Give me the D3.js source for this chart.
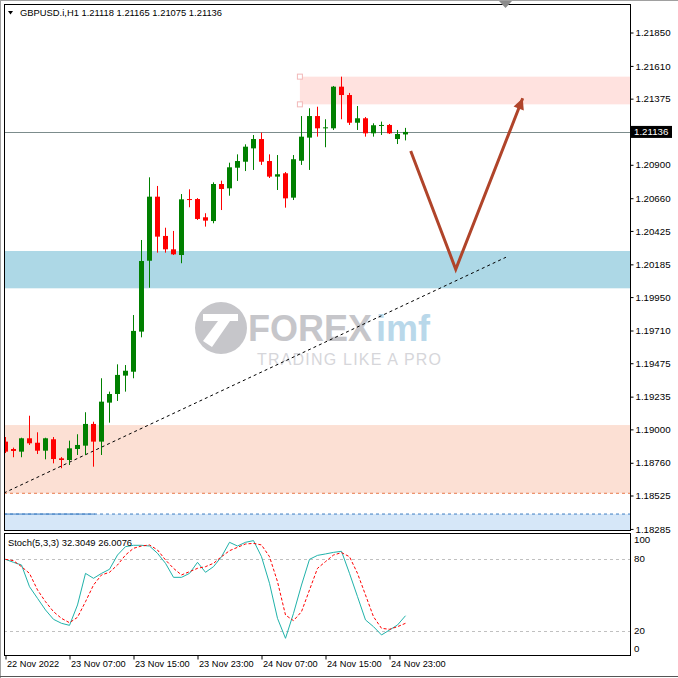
<!DOCTYPE html>
<html><head><meta charset="utf-8">
<script src="https://cdn.jsdelivr.net/npm/d3@7"></script>
<style>body{margin:0;background:#fff}svg{display:block}text{font-family:"Liberation Sans",Arial,sans-serif}</style>
</head><body><svg id="c" width="678" height="678"></svg>
<script>
// ---------- data ----------
const symbolLabel = "GBPUSD.i,H1";
const lastOHLC = [1.21118, 1.21165, 1.21075, 1.21136];
const open  = [1.18912,1.18859,1.18840,1.18936,1.18904,1.18847,1.18929,1.18792,1.18780,1.18859,1.18883,1.19039,1.18912,1.19192,1.19254,1.19386,1.19414,1.19702,1.20211,1.20671,1.20389,1.20293,1.20252,1.20654,1.20654,1.20523,1.20496,1.20762,1.20731,1.20879,1.20922,1.21018,1.21085,1.20927,1.20815,1.20839,1.20664,1.20929,1.21095,1.21250,1.21162,1.21162,1.21461,1.21401,1.21202,1.21234,1.21126,1.21179,1.21186,1.21085,1.21118];
const high  = [1.18945,1.18869,1.18940,1.19098,1.18979,1.18940,1.18945,1.18801,1.18919,1.18965,1.19123,1.19055,1.19367,1.19271,1.19467,1.19462,1.19821,1.20360,1.20810,1.20748,1.20448,1.20425,1.20690,1.20724,1.20661,1.20552,1.20774,1.20786,1.20915,1.20975,1.21047,1.21114,1.21131,1.20975,1.20970,1.20848,1.20970,1.21250,1.21306,1.21317,1.21227,1.21466,1.21533,1.21416,1.21322,1.21243,1.21198,1.21210,1.21193,1.21150,1.21165];
const low   = [1.18830,1.18800,1.18800,1.18888,1.18823,1.18785,1.18756,1.18721,1.18744,1.18816,1.18816,1.18732,1.18816,1.19048,1.19204,1.19271,1.19367,1.19661,1.20017,1.20269,1.20269,1.20252,1.20193,1.20595,1.20504,1.20456,1.20480,1.20575,1.20678,1.20784,1.20855,1.20863,1.20899,1.20805,1.20719,1.20592,1.20647,1.20899,1.20863,1.21102,1.21026,1.21150,1.21227,1.21186,1.21150,1.21102,1.21102,1.21114,1.21121,1.21049,1.21075];
const close = [1.18840,1.18845,1.18936,1.18900,1.18847,1.18936,1.18787,1.18780,1.18864,1.18888,1.19039,1.18912,1.19199,1.19254,1.19391,1.19421,1.19707,1.20209,1.20671,1.20384,1.20293,1.20257,1.20652,1.20647,1.20511,1.20499,1.20762,1.20726,1.20882,1.20927,1.21030,1.21085,1.20922,1.20815,1.20832,1.20659,1.20940,1.21102,1.21250,1.21162,1.21169,1.21461,1.21401,1.21202,1.21234,1.21126,1.21184,1.21186,1.21126,1.21121,1.21136];
const stochK = [79.3,76.8,74.6,56.5,46.8,37.1,29.3,26.0,24.3,41.3,67.6,63.5,67.6,71.0,82.9,89.9,91.0,91.0,90.4,84.3,76.0,64.3,64.3,67.6,76.8,68.5,73.2,81.5,93.5,90.4,93.5,94.9,81.5,59.3,30.1,13.5,34.3,57.9,79.3,82.6,83.8,85.1,86.0,67.6,48.2,28.8,23.2,16.3,20.4,24.6,32.3];
const stochD = [79.3,78.2,73.2,67.6,53.8,44.0,35.7,30.1,26.5,31.0,44.0,57.9,66.3,68.5,74.6,82.9,88.5,90.4,91.3,87.1,78.8,71.8,66.3,69.0,71.8,73.2,76.0,81.5,86.5,89.3,92.1,92.6,91.3,81.5,60.7,32.9,28.2,35.7,53.8,71.8,77.4,82.9,84.9,81.5,67.6,49.6,31.5,21.8,21.0,23.2,26.0];
const stochLabel = "Stoch(5,3,3) 32.3049 26.0076";
const priceTicks = [1.21850,1.21610,1.21375,1.20900,1.20660,1.20425,1.20185,1.19950,1.19710,1.19475,1.19235,1.19000,1.18760,1.18525,1.18285];
const stochTicks = [100,80,20,0];
const stochLevels = [80,20];
const timeTickIdx = [0,8,16,24,32,40,48];
const timeTickLabels = ["22 Nov 2022","23 Nov 07:00","23 Nov 15:00","23 Nov 23:00","24 Nov 07:00","24 Nov 15:00","24 Nov 23:00"];
const bidPrice = 1.21136;
const resistZone = [36.8, 1.21533, 1.21334];   // start bar, top, bottom
const supportZone = [1.20281, 1.20013];
const demandZone = [1.19031, 1.18541];
const lowBandTop = 1.18392;
const lowBandSolidEnd = 11.2;
const trendLine = [[-0.2, 1.18543], [62.56, 1.20236]];
const forecast = [[50.65, 1.20999], [56.28, 1.20150], [64.65, 1.21378]];

// ---------- layout ----------
const svg = d3.select("#c");
const L = 4, R = 630, mainTop = 4, mainBot = 530, stTop = 533, stBot = 655;
const x = d3.scaleLinear().domain([0, 50]).range([5.5, 405.5]);
const y = d3.scaleLinear().domain([1.19710, 1.21850]).range([330.5, 32.5]);
const ys = d3.scaleLinear().domain([0, 100]).range([654.5, 534.5]);

svg.append("rect").attr("width",678).attr("height",678).attr("fill","#fff");
const defs = svg.append("defs");
defs.append("clipPath").attr("id","cm").append("rect").attr("x",L).attr("y",mainTop).attr("width",R-L).attr("height",mainBot-mainTop);
defs.append("clipPath").attr("id","cs").append("rect").attr("x",L).attr("y",stTop).attr("width",R-L).attr("height",stBot-stTop);

const m = svg.append("g").attr("clip-path","url(#cm)");

// zones
m.append("rect").attr("x",x(resistZone[0])).attr("y",y(resistZone[1])).attr("width",R-x(resistZone[0])+10)
  .attr("height",y(resistZone[2])-y(resistZone[1])).attr("fill","#ffe2df");
m.append("rect").attr("x",L).attr("y",y(supportZone[0])).attr("width",R-L)
  .attr("height",y(supportZone[1])-y(supportZone[0])).attr("fill","#add8e6");
m.append("rect").attr("x",L).attr("y",y(demandZone[0])).attr("width",R-L)
  .attr("height",y(demandZone[1])-y(demandZone[0])).attr("fill","#fce0d4");
m.append("line").attr("x1",L).attr("x2",R).attr("y1",y(demandZone[1])).attr("y2",y(demandZone[1]))
  .attr("stroke","#e8794a").attr("stroke-dasharray","3,3");
m.append("rect").attr("x",L).attr("y",y(lowBandTop)).attr("width",R-L)
  .attr("height",mainBot-y(lowBandTop)).attr("fill","#d6e7f8");
m.append("line").attr("x1",L).attr("x2",R).attr("y1",y(lowBandTop)).attr("y2",y(lowBandTop))
  .attr("stroke","#3f7fc4").attr("stroke-dasharray","3,3");
m.append("line").attr("x1",L).attr("x2",x(lowBandSolidEnd)).attr("y1",y(lowBandTop)).attr("y2",y(lowBandTop))
  .attr("stroke","#3f7fc4");

// watermark
const wm = m.append("g");
wm.append("circle").attr("cx",221).attr("cy",328).attr("r",26).attr("fill","#c6c6ca");
wm.append("path").attr("d","M203,314 L238,314 L238,321 L230,321 L212,347 L203,341 L218,321 L203,321 Z").attr("fill","#fff");
wm.append("text").attr("x",248).attr("y",341).attr("font-size",36).attr("font-weight","bold").attr("fill","#c6c6ca").text("FOREX");
wm.append("text").attr("x",376).attr("y",341).attr("font-size",36).attr("font-weight","bold").attr("fill","#b9d8ea").text("imf");
wm.append("text").attr("x",257).attr("y",365).attr("font-size",16).attr("letter-spacing",1.2).attr("fill","#d6d6da").text("TRADING LIKE A PRO");

// bid line
m.append("line").attr("x1",L).attr("x2",R).attr("y1",Math.round(y(bidPrice))+0.5).attr("y2",Math.round(y(bidPrice))+0.5)
  .attr("stroke","#7c8c8c");

// trendline
m.append("line").attr("x1",x(trendLine[0][0])).attr("y1",y(trendLine[0][1]))
  .attr("x2",x(trendLine[1][0])).attr("y2",y(trendLine[1][1]))
  .attr("stroke","#000").attr("stroke-dasharray","3,3");

// candles
const idx = d3.range(open.length);
const col = i => close[i] >= open[i] ? "#008000" : "#ff0000";
m.append("g").selectAll("line").data(idx).join("line")
  .attr("x1",i=>x(i)).attr("x2",i=>x(i)).attr("y1",i=>y(high[i])).attr("y2",i=>y(low[i]))
  .attr("stroke",col);
m.append("g").selectAll("rect").data(idx).join("rect")
  .attr("x",i=>x(i)-2.5).attr("width",5)
  .attr("y",i=>Math.min(y(open[i]),y(close[i])))
  .attr("height",i=>Math.max(1,Math.abs(y(open[i])-y(close[i]))))
  .attr("fill",col);

// zone handles
[resistZone[1],resistZone[2]].forEach(p=>{
  m.append("rect").attr("x",x(resistZone[0])-2.5).attr("y",y(p)-2.5).attr("width",5).attr("height",5)
    .attr("fill","#fff").attr("stroke","#f2b8b8");
});

// forecast arrow
const fpts = forecast.map(d=>[x(d[0]),y(d[1])]);
m.append("path").attr("d",d3.line()(fpts.slice(0,2).concat([[0,0]]).slice(0,2).concat([fpts[2]])))
  .attr("fill","none").attr("stroke","#b0442a").attr("stroke-width",3).attr("stroke-linejoin","miter");
{
  const [a,b] = [fpts[1],fpts[2]];
  const ang = Math.atan2(b[1]-a[1], b[0]-a[0]);
  const len = 11, hw = 5.5;
  const bx = b[0]-len*Math.cos(ang), by = b[1]-len*Math.sin(ang);
  const px = -Math.sin(ang), py = Math.cos(ang);
  m.append("path").attr("d",`M${b[0]},${b[1]}L${bx+hw*px},${by+hw*py}L${bx-hw*px},${by-hw*py}Z`).attr("fill","#b0442a");
}

// main frame
svg.append("rect").attr("x",L+0.5).attr("y",mainTop+0.5).attr("width",R-L).attr("height",mainBot-mainTop)
  .attr("fill","none").attr("stroke","#000");

// price axis
const pa = svg.append("g").attr("transform",`translate(${R+0.5},0)`)
  .call(d3.axisRight(y).tickValues(priceTicks).tickSize(3).tickPadding(2).tickFormat(d3.format(".5f")));
pa.select(".domain").remove();
pa.selectAll("text").attr("font-size",9.7).attr("font-family","Liberation Sans, Arial, sans-serif").attr("fill","#000");
// bid label
svg.append("rect").attr("x",R+1).attr("y",y(bidPrice)-6).attr("width",41).attr("height",12).attr("fill","#000");
svg.append("text").attr("x",R+4).attr("y",y(bidPrice)).attr("dy","0.34em").attr("font-size",9.7).attr("fill","#fff").text(d3.format(".5f")(bidPrice));

// header
svg.append("path").attr("d","M8,11 L13,11 L10.5,14.5 Z").attr("fill","#000");
svg.append("text").attr("x",20).attr("y",16).attr("font-size",9.4).attr("fill","#000")
  .text(symbolLabel + "  " + lastOHLC.map(d3.format(".5f")).join(" "));

// stochastic panel
const s = svg.append("g").attr("clip-path","url(#cs)");
stochLevels.forEach(v=>{
  s.append("line").attr("x1",L).attr("x2",R).attr("y1",Math.round(ys(v))+0.5).attr("y2",Math.round(ys(v))+0.5)
    .attr("stroke","#c0c0c0").attr("stroke-dasharray","3,3");
});
s.append("path").attr("d",d3.line().x((d,i)=>x(i)).y(d=>ys(d))(stochK)).attr("fill","none").attr("stroke","#20b2aa");
s.append("path").attr("d",d3.line().x((d,i)=>x(i)).y(d=>ys(d))(stochD)).attr("fill","none").attr("stroke","#ff0000").attr("stroke-dasharray","3,2");
svg.append("rect").attr("x",L+0.5).attr("y",stTop+0.5).attr("width",R-L).attr("height",stBot-stTop)
  .attr("fill","none").attr("stroke","#000");
svg.append("text").attr("x",8).attr("y",546).attr("font-size",9.4).attr("fill","#000").text(stochLabel);
const stLabelY = {100:539.5, 80:558.5, 20:630.5, 0:648.5};
svg.selectAll(".stl").data(stochTicks).join("text").attr("class","stl")
  .attr("x",R+4).attr("y",d=>Math.min(Math.max(ys(d),539.5),648.5)).attr("dy","0.34em").attr("font-size",9.7).attr("fill","#000").text(d=>d);

// time axis
const ta = svg.append("g").attr("transform",`translate(0,${stBot+0.5})`)
  .call(d3.axisBottom(x).tickValues(timeTickIdx).tickSize(4).tickFormat((d,i)=>timeTickLabels[i]));
ta.select(".domain").remove();
ta.selectAll("text").attr("text-anchor","start").attr("dx",1).attr("y",5).attr("font-size",9.2).attr("font-family","Liberation Sans, Arial, sans-serif").attr("fill","#000");

// window frame
svg.append("line").attr("x1",0).attr("x2",678).attr("y1",0.5).attr("y2",0.5).attr("stroke","#a0a0a0");
svg.append("line").attr("x1",0.5).attr("x2",0.5).attr("y1",0).attr("y2",678).attr("stroke","#a0a0a0");
svg.append("line").attr("x1",0).attr("x2",678).attr("y1",676.5).attr("y2",676.5).attr("stroke","#555");
svg.append("path").attr("d","M499,1 L512,1 L505.5,8 Z").attr("fill","#8c8c8c");
</script></body></html>
